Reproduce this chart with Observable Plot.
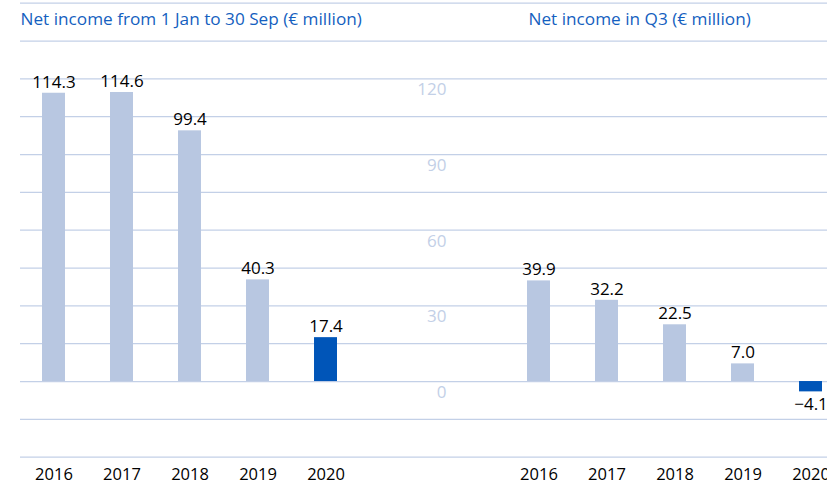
<!DOCTYPE html>
<html><head><meta charset="utf-8">
<script src="https://cdn.jsdelivr.net/npm/d3@7"></script>
<script src="https://cdn.jsdelivr.net/npm/@observablehq/plot@0.6"></script>
<style>
body{margin:0;background:#fff;}
#wrap{position:relative;width:827px;height:485px;overflow:hidden;background:#fff;}
#wrap > svg{position:absolute;top:0;}
</style></head><body><div id="wrap"></div>
<script>
const years = ["2016","2017","2018","2019","2020"];
const ytdValues = [114.3, 114.6, 99.4, 40.3, 17.4];
const q3Values = [39.9, 32.2, 22.5, 7.0, -4.1];
const titles = ["Net income from 1 Jan to 30 Sep (€ million)", "Net income in Q3 (€ million)"];
const gridTicks = [-30, -15, 0, 15, 30, 45, 60, 75, 90, 105, 120, 135, 150];
const labelTicks = [0, 30, 60, 90, 120];
const highlightYear = "2020";

const FONT = "'Open Sans', sans-serif";
const GRID = "#c3d0e7";
const LIGHT = "#b8c7e1";
const DARK = "#0055b8";
const TITLE = "#155fc0";
const fmt = d3.format(".1f");

function panel(values, title, o) {
  const data = years.map((year, i) => ({year, value: values[i]}));
  const marks = [
    Plot.ruleY(gridTicks, {stroke: GRID, strokeWidth: 1.3}),
    Plot.barY(data.filter(d => d.year !== highlightYear), {x: "year", y: "value", fill: LIGHT}),
    Plot.barY(data.filter(d => d.year === highlightYear), {x: "year", y: "value", fill: DARK}),
    Plot.text(data.filter(d => d.value >= 0), {x: "year", y: "value", text: d => fmt(d.value), dy: -11, fill: "#000", fontSize: 17}),
    Plot.text(data.filter(d => d.value < 0), {x: "year", y: "value", text: d => fmt(d.value), dy: 13, fill: "#000", fontSize: 17}),
    Plot.axisX({tickSize: 0, tickPadding: 11, fontSize: 16.5, fill: "#000", label: null}),
    Plot.text([title], {frameAnchor: "top-left", dx: o.titleDx, dy: 16, textAnchor: "start", lineAnchor: "middle", fill: TITLE, fontSize: 17.2})
  ];
  if (o.tickLabels) {
    marks.push(Plot.text(labelTicks, {y: d => d, frameAnchor: "right", textAnchor: "end", dx: -39, dy: 11, fill: GRID, fontSize: 17, text: d => String(d)}));
  }
  return Plot.plot({
    width: 485, height: 485,
    marginLeft: o.ml, marginRight: 0, marginTop: 3, marginBottom: 28,
    style: {fontFamily: FONT, fontSize: "17px", color: "#000", background: "transparent"},
    x: {type: "band", domain: years, range: [42, 337], paddingInner: 0.662, paddingOuter: 0, round: false, label: null, axis: null},
    y: {domain: [-30, 150], range: [456.7, 2.7], axis: null},
    marks
  });
}

const wrap = document.getElementById("wrap");
const left = panel(ytdValues, titles[0], {ml: 20, titleDx: 0, tickLabels: true});
left.style.left = "0px";
const right = panel(q3Values, titles[1], {ml: 0, titleDx: 43, tickLabels: false});
right.style.left = "485px";
wrap.appendChild(left);
wrap.appendChild(right);
</script></body></html>
